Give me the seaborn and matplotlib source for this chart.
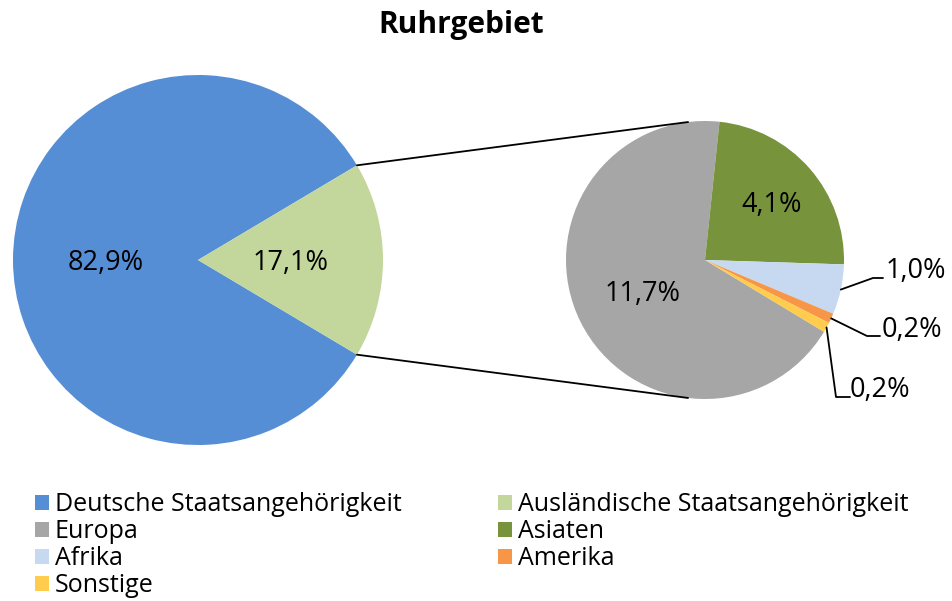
import numpy as np
import matplotlib
matplotlib.use('Agg')
import matplotlib.pyplot as plt
from matplotlib.patches import Patch
import seaborn as sns

# data
main_labels = ['Deutsche Staatsangehörigkeit', 'Ausländische Staatsangehörigkeit']
main_values = [82.9, 17.1]
sub_labels = ['Europa', 'Asiaten', 'Afrika', 'Amerika', 'Sonstige']
sub_values = [11.7, 4.1, 1.0, 0.2, 0.2]

main_colors = ['#558ED5', '#C3D69B']
sub_colors = ['#A6A6A6', '#77933C', '#C6D9F1', '#F79646', '#FFCC4D']

sns.set_theme(style='white')
plt.rcParams['font.family'] = ['Open Sans', 'DejaVu Sans']
plt.rcParams['text.color'] = 'black'

W, H = 953, 601
fig = plt.figure(figsize=(W / 100, H / 100), dpi=100)
ax = fig.add_axes([0, 0, 1, 1])

def fmt(v):
    return f"{v:.1f}%".replace('.', ',')

LBL = 19.5
DY = -3  # small vertical nudge of labels

# left pie
c1, r1 = (198, H - 260), 185
start1 = main_values[1] / 100 * 180
w1, _ = ax.pie(main_values, colors=main_colors, startangle=start1, center=c1,
               radius=r1, wedgeprops=dict(linewidth=0), frame=True)
for w, v in zip(w1, main_values):
    mid = np.deg2rad((w.theta1 + w.theta2) / 2)
    ax.text(c1[0] + 0.5 * r1 * np.cos(mid), c1[1] + 0.5 * r1 * np.sin(mid) + DY, fmt(v),
            ha='center', va='center', fontsize=LBL)

# right pie (breakdown of foreign population), clockwise, Asiaten starting near top
c2, r2 = (705, H - 260), 139
total = sum(sub_values)
start2 = 84 - 360 + sub_values[0] / total * 360
w2, _ = ax.pie(sub_values, colors=sub_colors, startangle=start2, counterclock=False,
               center=c2, radius=r2, wedgeprops=dict(linewidth=0), frame=True)
ax.set_xlim(0, W)
ax.set_ylim(0, H)
ax.set_aspect('equal')
ax.axis('off')

def mid_angle(w):
    return np.deg2rad((w.theta1 + w.theta2) / 2)

inside = {0: 0.5, 1: 0.64}
for i, d in inside.items():
    a = mid_angle(w2[i])
    ax.text(c2[0] + d * r2 * np.cos(a), c2[1] + d * r2 * np.sin(a) + DY, fmt(sub_values[i]),
            ha='center', va='center', fontsize=LBL)

# small slices with leader lines: (elbow x, elbow y, line end x, text x, text y)
leaders = {2: (873, 278, 883, 886, 271),
           3: (867, 336, 880, 882, 330),
           4: (836, 397, 850, 850, 390)}
for i, (ex, ey, lx, tx, ty) in leaders.items():
    a = mid_angle(w2[i])
    px, py = c2[0] + r2 * np.cos(a), c2[1] + r2 * np.sin(a)
    ax.plot([px, ex, lx], [py, H - ey, H - ey], color='black', lw=1.3)
    ax.text(tx, H - ty, fmt(sub_values[i]), ha='left', va='center', fontsize=LBL)

# connector lines between pies
for sgn in (1, -1):
    a1 = np.deg2rad(sgn * start1)
    a2 = np.deg2rad(sgn * 97)
    ax.plot([c1[0] + r1 * np.cos(a1), c2[0] + r2 * np.cos(a2)],
            [c1[1] + r1 * np.sin(a1), c2[1] + r2 * np.sin(a2)], color='black', lw=1.3)

ax.text(461, H - 25, 'Ruhrgebiet', ha='center', va='center', fontsize=21.5, fontweight='bold')

# legend, filled row-wise
names = main_labels + sub_labels
cols = main_colors + sub_colors
handles = [Patch(facecolor=c, edgecolor='none', label=n) for n, c in zip(names, cols)]
order = [0, 2, 4, 6, 1, 3, 5]
fig.legend([handles[i] for i in order], [names[i] for i in order], ncol=2,
           loc='upper left', bbox_to_anchor=(35 / W, 1 - 492 / H), frameon=False,
           fontsize=18, handlelength=0.55, handleheight=0.55, handletextpad=0.25,
           labelspacing=0.08, columnspacing=3.85, borderpad=0, borderaxespad=0)

fig.savefig('out.png', dpi=100)
